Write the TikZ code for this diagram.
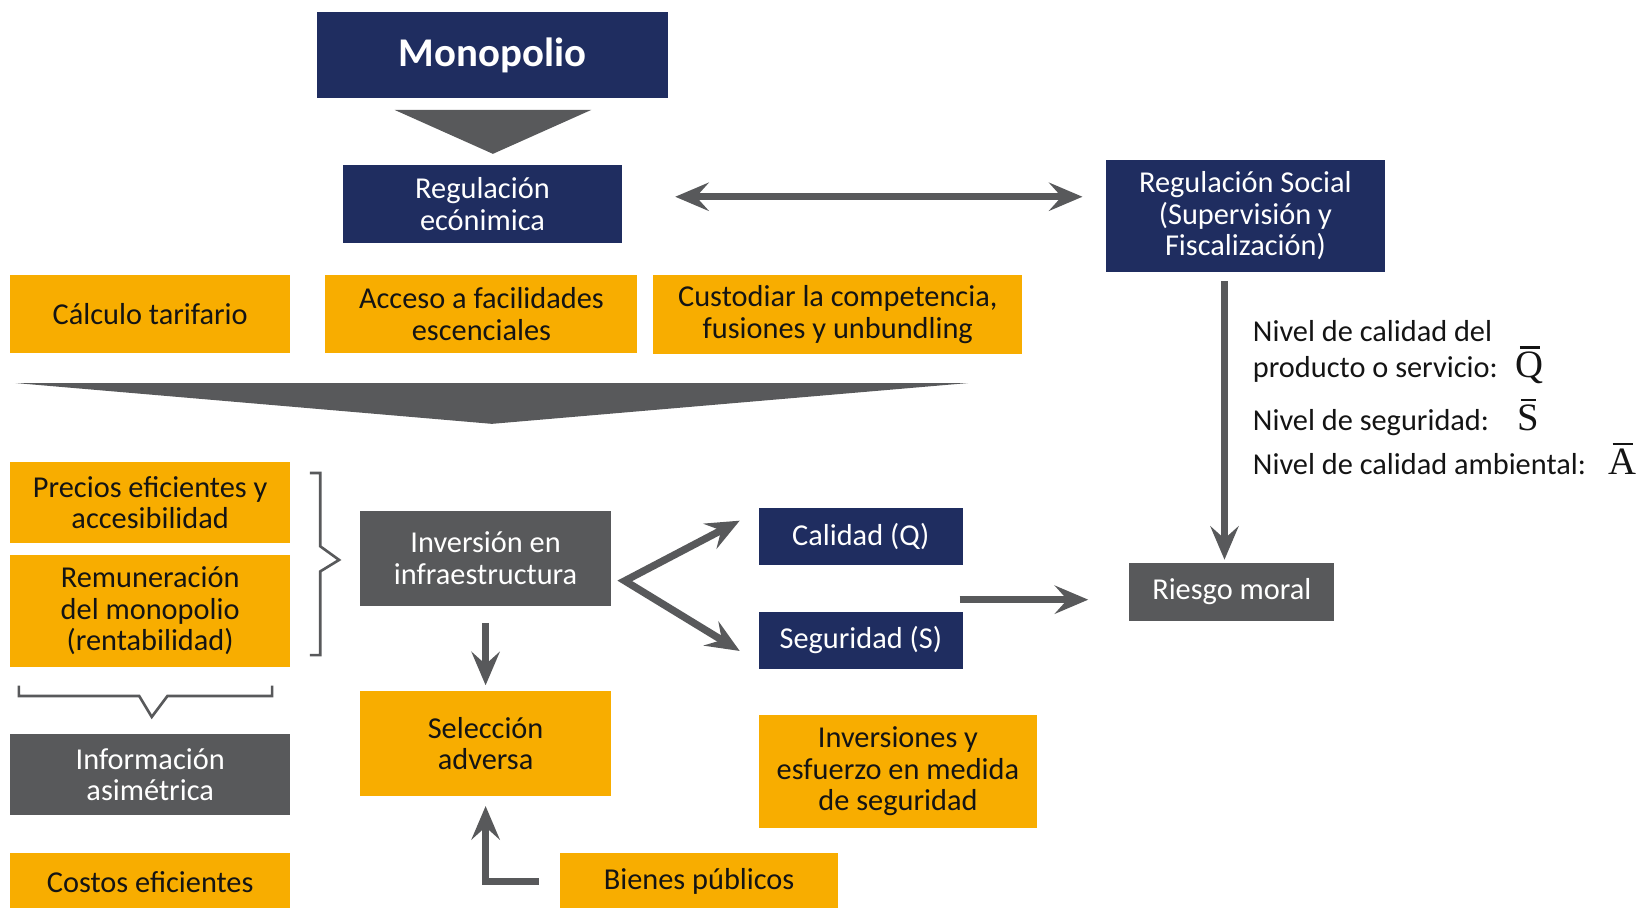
\documentclass[tikz,border=0pt]{standalone}
\usepackage{fontspec}
\setmainfont{Carlito}
\newfontfamily\serifa{Liberation Serif}
\usetikzlibrary{arrows.meta,calc}

\definecolor{azulreg}{RGB}{31,45,96}
\definecolor{naranja}{RGB}{248,173,0}
\definecolor{grisosc}{RGB}{88,89,91}
\definecolor{textonar}{RGB}{20,20,20}

% letra con barra encima
\newcommand{\barra}[1]{{\serifa\fontsize{37}{40}\selectfont\setbox0\hbox{#1}%
    \rlap{\hbox to\wd0{\hss\raisebox{1.12\ht0}{\rule{0.72\wd0}{2.6pt}}\hss}}\box0}}

\begin{document}
\begin{tikzpicture}[x=1pt,y=-1pt,
    caja/.style={inner sep=2pt,align=center,font=\fontsize{29}{30}\selectfont},
    azul/.style={caja,fill=azulreg,text=white},
    naranjo/.style={caja,fill=naranja,text=textonar},
    gris/.style={caja,fill=grisosc,text=white},
    punta/.tip={Stealth[length=32pt,width=27pt,inset=12pt]},
    flecha/.style={draw=grisosc,line width=7pt,line join=miter,-punta},
    llave/.style={draw=grisosc,line width=2.5pt},
    nivel/.style={anchor=base west,inner sep=0pt,text=textonar,font=\fontsize{29}{30}\selectfont}]

    \useasboundingbox (0,0) rectangle (1568,867);

    %%%%%%%%%%%%%%%%%%% Top %%%%%%%%%%%%%%%%%%%%%%%%%%%%%%%
    \node [azul,minimum width=336pt,minimum height=82pt,font=\fontsize{39}{40}\selectfont\bfseries] (mono) at (470.5,52.5) {Monopolio};
    \fill [grisosc] (377,105) -- (565,105) -- (471,147) -- cycle;

    \node [azul,minimum width=266pt,minimum height=75pt] (regeco) at (461,195) {Regulación\\ecónimica};
    \node [azul,minimum width=267pt,minimum height=107pt] (regsoc) at (1190,206) {Regulación Social\\(Supervisión y\\Fiscalización)};

    % Instrumentos
    \node [naranjo,minimum width=267pt,minimum height=74pt] (calc) at (143.5,300) {Cálculo tarifario};
    \node [naranjo,minimum width=298pt,minimum height=74pt] (acceso) at (460,300) {Acceso a facilidades\\escenciales};
    \node [naranjo,minimum width=353pt,minimum height=75pt] (custodiar) at (800.5,300.5) {Custodiar la competencia,\\fusiones y unbundling};

    \fill [grisosc] (15,366) -- (925,366) -- (470,405) -- cycle;

    %%%%%%%%%%%%%%%%%%% Left %%%%%%%%%%%%%%%%%%%%%%%%%%%%%%%
    \node [naranjo,minimum width=267pt,minimum height=78pt] (precios) at (143.5,480) {Precios eficientes y\\accesibilidad};
    \node [naranjo,minimum width=267pt,minimum height=107pt] (remun) at (143.5,583.5) {Remuneración\\del monopolio\\(rentabilidad)};
    \node [gris,minimum width=267pt,minimum height=78pt] (infasim) at (143.5,740) {Información\\asimétrica};
    \node [naranjo,minimum width=267pt,minimum height=55pt] (costos) at (143.5,842.5) {Costos eficientes};

    \draw [llave] (296,452) -- (306,452) -- (306,522) -- (324,535) -- (306,546) -- (306,626) -- (296,626);
    \draw [llave] (18,655) -- (18,665) -- (133,665) -- (145,685) -- (160,665) -- (260,665) -- (260,655);

    %%%%%%%%%%%%%%%%%%% Center %%%%%%%%%%%%%%%%%%%%%%%%%%%%%
    \node [gris,minimum width=240pt,minimum height=91pt] (inversion) at (464,533.5) {Inversión en\\infraestructura};
    \node [naranjo,minimum width=240pt,minimum height=101pt] (seleccion) at (464,710.5) {Selección\\adversa};
    \node [naranjo,minimum width=266pt,minimum height=55pt] (bienes) at (668,842.5) {Bienes públicos};

    \node [azul,minimum width=195pt,minimum height=55pt] (calidad) at (822.5,512.5) {Calidad (Q)};
    \node [azul,minimum width=195pt,minimum height=54pt] (seguridad) at (822.5,612) {Seguridad (S)};
    \node [naranjo,minimum width=266pt,minimum height=108pt] (inversiones) at (858,737) {Inversiones y\\esfuerzo en medida\\de seguridad};

    %%%%%%%%%%%%%%%%%%% Right %%%%%%%%%%%%%%%%%%%%%%%%%%%%%%
    \node [gris,minimum width=196pt,minimum height=55pt] (riesgo) at (1177,565.5) {Riesgo moral};

    \node [nivel] (nivq1) at (1197,326) {Nivel de calidad del};
    \node [nivel] (nivq2) at (1197,361) {producto o servicio:\hspace{0.6em}\barra{Q}};
    \node [nivel] (nivs) at (1197,411) {Nivel de seguridad:\hspace{0.95em}\barra{S}};
    \node [nivel] (niva) at (1197,453) {Nivel de calidad ambiental:\hspace{0.75em}\barra{A}};

    % Flechas
    \coordinate (dbl) at (0,188);
    \coordinate (bajada) at (1170,0);
    \coordinate (vert) at (597,555);
    \coordinate (qs) at (917,573);

    \draw [flecha,punta-punta,shorten <=51pt,shorten >=22pt] (regeco.east |- dbl) -- (regsoc.west |- dbl);
    \draw [flecha,shorten <=9pt,shorten >=3pt] (regsoc.south -| bajada) -- (riesgo.north -| bajada);
    \draw [flecha,shorten <=16pt,shorten >=5pt] (inversion.south) -- (seleccion.north);
    \draw [flecha,punta-punta] ($(calidad.west)+(-18,-15)$) -- (vert) -- ($(seguridad.west)+(-18,10)$);
    \draw [flecha,shorten >=39pt] (qs) -- (qs -| riesgo.west);
    \draw [flecha,shorten <=20pt,shorten >=9pt] (bienes.west) -- (seleccion.south |- bienes.west) -- (seleccion.south);

\end{tikzpicture}
\end{document}
